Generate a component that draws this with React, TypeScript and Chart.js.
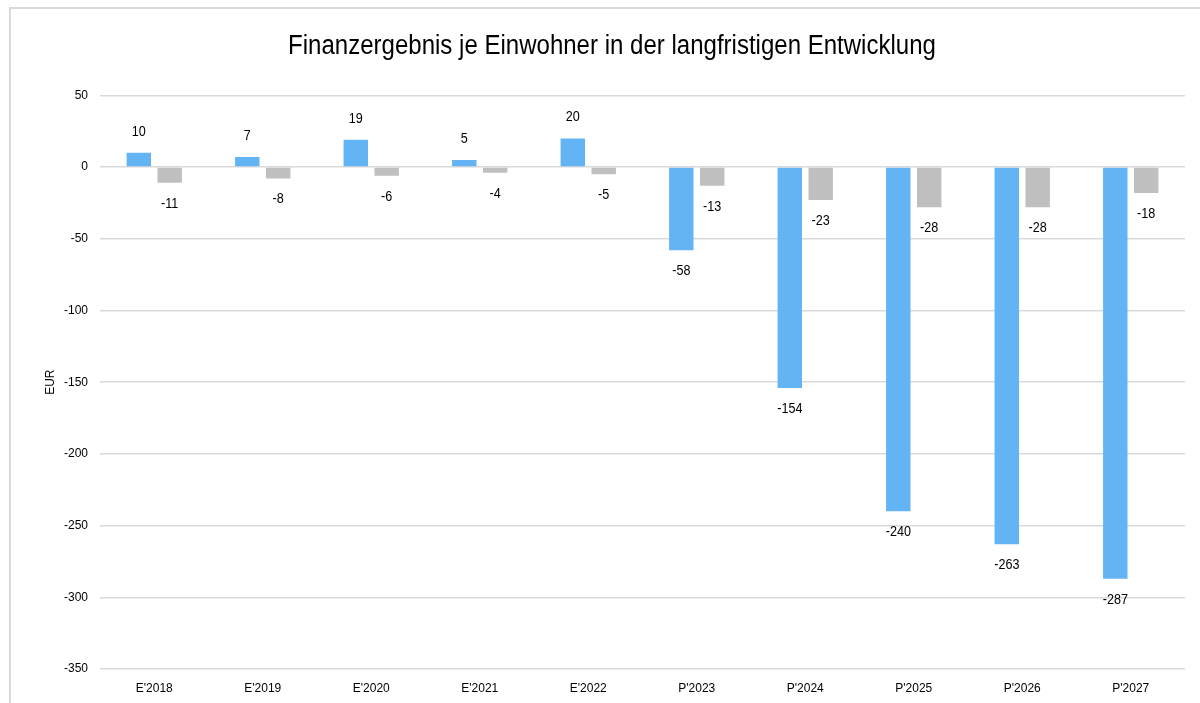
import React, { useEffect, useRef } from "react";
import { Chart, registerables } from "chart.js";

Chart.register(...registerables);

const categories = ["E'2018", "E'2019", "E'2020", "E'2021", "E'2022", "P'2023", "P'2024", "P'2025", "P'2026", "P'2027"];
const seriesBlue = [10, 7, 19, 5, 20, -58, -154, -240, -263, -287];
const seriesGray = [-11, -8, -6, -4, -5, -13, -23, -28, -28, -18];
const titleText = "Finanzergebnis je Einwohner in der langfristigen Entwicklung";
const yAxisTitle = "EUR";

const FONT = "'Liberation Sans', Arial, sans-serif";

const labelPlugin = {
  id: "barLabels",
  afterDatasetsDraw(chart: any) {
    const ctx = chart.ctx;
    ctx.save();
    ctx.font = `14px ${FONT}`;
    ctx.fillStyle = "#000";
    ctx.textAlign = "center";
    ctx.textBaseline = "middle";
    chart.data.datasets.forEach((ds: any, di: number) => {
      const meta = chart.getDatasetMeta(di);
      meta.data.forEach((bar: any, i: number) => {
        const v = ds.data[i];
        const y = v >= 0 ? bar.y - 21 : bar.y + 21;
        ctx.save();
        ctx.translate(bar.x, y);
        ctx.scale(0.9, 1);
        ctx.fillText(String(v), 0, 0);
        ctx.restore();
      });
    });
    // narrow-looking title drawn over the (transparent) layout title
    const t = chart.titleBlock;
    if (t) {
      ctx.font = `27px ${FONT}`;
      ctx.translate(chart.width / 2 + 12, t.top + t.options.padding.top + 16);
      ctx.scale(0.89, 1);
      ctx.fillText(titleText, 0, 0);
    }
    ctx.restore();
  },
};

export default function App() {
  const ref = useRef<HTMLCanvasElement | null>(null);
  useEffect(() => {
    document.body.style.margin = "0";
    const chart = new Chart(ref.current!, {
      type: "bar",
      data: {
        labels: categories,
        datasets: [
          { label: "A", data: seriesBlue, backgroundColor: "#63b4f5", categoryPercentage: 0.57, barPercentage: 0.79 },
          { label: "B", data: seriesGray, backgroundColor: "#bfbfbf", categoryPercentage: 0.57, barPercentage: 0.79 },
        ],
      },
      options: {
        animation: false,
        responsive: false,
        maintainAspectRatio: false,
        layout: { padding: { left: 39, right: 15, top: 8, bottom: 0 } },
        plugins: {
          legend: { display: false },
          tooltip: { enabled: false },
          title: {
            display: true,
            text: titleText,
            color: "rgba(0,0,0,0)",
            font: { family: FONT, size: 27, weight: "normal" },
            padding: { top: 23, bottom: 32 },
          },
        },
        scales: {
          x: {
            grid: { display: false },
            border: { display: false },
            ticks: { color: "#000", font: { family: FONT, size: 12 }, maxRotation: 0, padding: 4 },
            afterFit(scale: any) { scale.height = 34; },
          },
          y: {
            min: -350,
            max: 50,
            ticks: { stepSize: 50, color: "#000", font: { family: FONT, size: 12 }, padding: 12 },
            grid: { color: "#d9d9d9", lineWidth: 1.5, drawTicks: false },
            border: { display: false },
            title: { display: true, text: yAxisTitle, color: "#000", font: { family: FONT, size: 12 } },
            afterFit(scale: any) { scale.width = 61; },
          },
        },
      },
      plugins: [labelPlugin],
    });
    return () => chart.destroy();
  }, []);
  return (
    <div style={{ position: "relative", width: 1200, height: 703, background: "#fff" }}>
      <canvas ref={ref} width={1200} height={703} style={{ position: "absolute", left: 0, top: 0 }} />
      <div style={{ position: "absolute", left: 9, top: 7, width: 1191, height: 696, borderLeft: "2px solid #d9d9d9", borderTop: "2px solid #d9d9d9", pointerEvents: "none" }} />
    </div>
  );
}
